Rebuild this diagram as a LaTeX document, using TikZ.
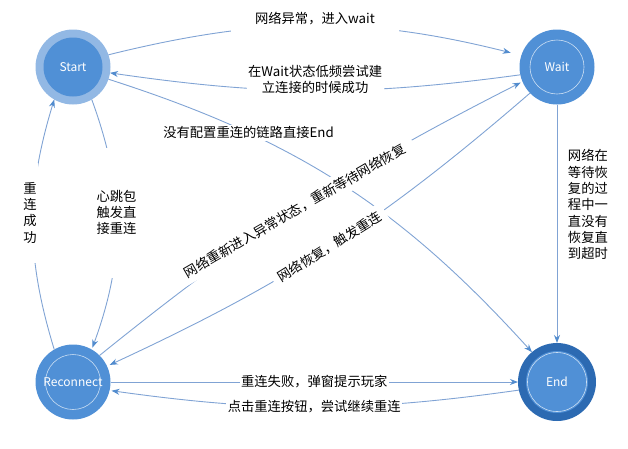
\documentclass[tikz,border=0pt]{standalone}
\usepackage{fontspec}
\setmainfont{Noto Sans CJK SC}
\usetikzlibrary{arrows.meta,positioning}
\definecolor{coreblue}{RGB}{80,144,214}
\definecolor{ringblue}{RGB}{146,184,228}
\definecolor{darkblue}{RGB}{44,106,178}
\definecolor{linkblue}{RGB}{128,163,212}
\definecolor{tipblue}{RGB}{82,140,206}
\tikzset{
  state/.style={circle,minimum size=75pt,inner sep=0pt,outer sep=0pt,text=white,font=\fontsize{12}{14}\selectfont},
  ringstate/.style={state,fill=ringblue,path picture={\fill[coreblue] (path picture bounding box.center) circle[radius=29.5pt];}},
  plainstate/.style={state,fill=coreblue,path picture={\draw[white!70!coreblue,line width=0.6pt] (path picture bounding box.center) circle[radius=#1];}},
  endstate/.style={state,minimum size=78pt,fill=darkblue,path picture={\fill[coreblue] (path picture bounding box.center) circle[radius=31pt];
    \draw[white!70!coreblue,line width=0.6pt] (path picture bounding box.center) circle[radius=29.5pt];}},
  link/.style={draw=linkblue,line width=0.9pt,-{Stealth[length=8pt,width=6pt,color=tipblue]}},
  lbl/.style={fill=white,inner sep=1.5pt,align=center,font=\fontsize{13.3}{16.3}\selectfont}
}
\begin{document}
\begin{tikzpicture}[x=1pt,y=-1pt]
\useasboundingbox (0,0) rectangle (628,448);
\node[ringstate] (start) at (73,67) {Start};
\node[plainstate=27pt] (wait) at (557,67) {Wait};
\node[plainstate=27.5pt] (reconnect) at (73,382) {Reconnect};
\node[endstate] (finish) at (557,382) {End};
\draw[link] (start.-19) to[bend left=15] node[lbl,pos=0.28] {没有配置重连的链路直接End} (finish.130);
\draw[link,shorten >=11pt] (start.19) to[bend left=14] node[lbl,midway,yshift=7pt,minimum width=168pt,minimum height=30pt] {网络异常，进入wait} (wait.162);
\draw[link] (wait.192) to[bend left=8] node[lbl,midway,yshift=11pt] {在Wait状态低频尝试建\\立连接的时候成功} (start.-9);
\draw[link,shorten >=2pt] (reconnect.45) to[bend left=6] node[lbl,pos=0.48,rotate=30,inner xsep=10pt,inner ysep=5pt] {网络重新进入异常状态，重新等待网络恢复} (wait.203);
\draw[link,shorten >=3pt] (wait.224) to[bend left=8] node[lbl,midway,rotate=32,inner xsep=6pt,inner ysep=5pt] {网络恢复，触发重连} (reconnect.25);
\draw[link] (reconnect.120) to[bend left=17] node[lbl,pos=0.55,xshift=-3pt,minimum height=100pt] {重\\连\\成\\功} (start.240);
\draw[link,shorten >=2pt] (start.-60) to[bend left=20] node[lbl,pos=0.45,minimum height=130pt] {心跳包\\触发直\\接重连} (reconnect.60);
\draw[link] (wait.south) -- node[lbl,pos=0.42,right=9pt,align=left] {网络在\\等待恢\\复的过\\程中一\\直没有\\恢复直\\到超时} (finish.north);
\draw[link] (reconnect.east) -- node[lbl] {重连失败，弹窗提示玩家} (finish.west);
\draw[link,shorten >=2pt] (finish.192) to[bend left=8] node[lbl] {点击重连按钮，尝试继续重连} (reconnect.-13);
\end{tikzpicture}
\end{document}
